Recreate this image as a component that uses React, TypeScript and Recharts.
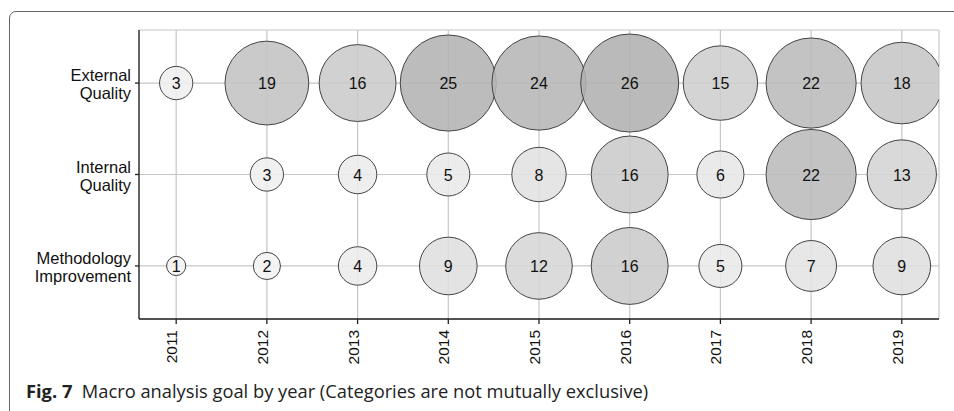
// @ts-ignore
import React from 'react'
// @ts-ignore
import { ScatterChart, Scatter, XAxis, YAxis, ZAxis, CartesianGrid } from 'recharts'

const years = [2011, 2012, 2013, 2014, 2015, 2016, 2017, 2018, 2019]
const categories = ['External Quality', 'Internal Quality', 'Methodology Improvement']
const categoryLines = [['External', 'Quality'], ['Internal', 'Quality'], ['Methodology', 'Improvement']]
const externalQuality = [3, 19, 16, 25, 24, 26, 15, 22, 18]
const internalQuality = [null, 3, 4, 5, 8, 16, 6, 22, 13]
const methodologyImprovement = [1, 2, 4, 9, 12, 16, 5, 7, 9]

const seriesValues = [externalQuality, internalQuality, methodologyImprovement]

const FONT = '"Liberation Sans", Arial, Helvetica, sans-serif'

// row 0 on top
const rowY = (i: number) => categories.length - i

const rows = seriesValues.map((vals, i) =>
  years
    .map((yr, j) => ({ x: yr, y: rowY(i), z: vals[j] }))
    .filter(d => d.z != null)
)

// darker grey for bigger counts
const fillFor = (v: number) => {
  const shown = 248 - 2.4 * v
  const base = Math.round(255 - (255 - shown) / 0.88)
  return `rgb(${base},${base},${base})`
}

const Bubble = (props: any) => {
  const { cx, cy, size, payload } = props
  const r = Math.sqrt(Math.max(size, 0) / Math.PI)
  return (
    <g>
      <circle cx={cx} cy={cy} r={r} fill={fillFor(payload.z)} fillOpacity={0.88} stroke="#444" strokeWidth={1} />
      <text x={cx} y={cy + 6} textAnchor="middle" fontFamily={FONT} fontSize={16} fill="#111">
        {payload.z}
      </text>
    </g>
  )
}

const YTick = (props: any) => {
  const { x, y, payload } = props
  const idx = categories.length - payload.value
  const lines = categoryLines[idx] || []
  return (
    <text x={x - 2} textAnchor="end" fontFamily={FONT} fontSize={16.5} fill="#111">
      <tspan x={x - 2} y={y - 2}>{lines[0]}</tspan>
      <tspan x={x - 2} y={y + 16}>{lines[1]}</tspan>
    </text>
  )
}

const XTick = (props: any) => {
  const { x, y, payload } = props
  return (
    <text
      transform={`translate(${x + 1},${y + 4}) rotate(-90)`}
      textAnchor="end"
      fontFamily={FONT}
      fontSize={15.5}
      fill="#111"
    >
      {payload.value}
    </text>
  )
}

export default function App() {
  return (
    <div style={{ position: 'absolute', left: 0, top: 0, width: 954, height: 411, overflow: 'hidden', background: '#fff' }}>
      <div
        style={{
          position: 'absolute', left: 9, top: 11, width: 980, height: 440,
          border: '1.5px solid #666', borderRadius: 7, boxSizing: 'border-box'
        }}
      />
      <div style={{ position: 'absolute', left: 0, top: 0 }}>
        <ScatterChart width={954} height={411} margin={{ top: 30, right: 15, bottom: 42, left: 9 }}>
          <CartesianGrid stroke="#c6c6c6" strokeWidth={1.2} />
          <XAxis
            type="number"
            dataKey="x"
            domain={[2010.59, 2019.41]}
            ticks={years}
            allowDataOverflow
            height={50}
            tickSize={5}
            stroke="#222"
            strokeWidth={1.3}
            tick={<XTick />}
            interval={0}
          />
          <YAxis
            type="number"
            dataKey="y"
            domain={[0.42, 3.58]}
            ticks={[1, 2, 3]}
            allowDataOverflow
            width={130}
            tickSize={4}
            stroke="#222"
            strokeWidth={1.3}
            tick={<YTick />}
            interval={0}
          />
          <ZAxis type="number" dataKey="z" domain={[0, 26]} range={[0, 7543]} />
          {rows.map((d, i) => (
            <Scatter key={categories[i]} name={categories[i]} data={d} shape={<Bubble />} isAnimationActive={false} />
          ))}
        </ScatterChart>
      </div>
      <div
        style={{
          position: 'absolute', left: 26, top: 379, fontFamily: '"Open Sans", "Noto Sans", sans-serif',
          fontSize: 18.3, color: '#222', whiteSpace: 'nowrap', lineHeight: '24px'
        }}
      >
        <b>Fig. 7</b>&nbsp;&nbsp;Macro analysis goal by year (Categories are not mutually exclusive)
      </div>
    </div>
  )
}
